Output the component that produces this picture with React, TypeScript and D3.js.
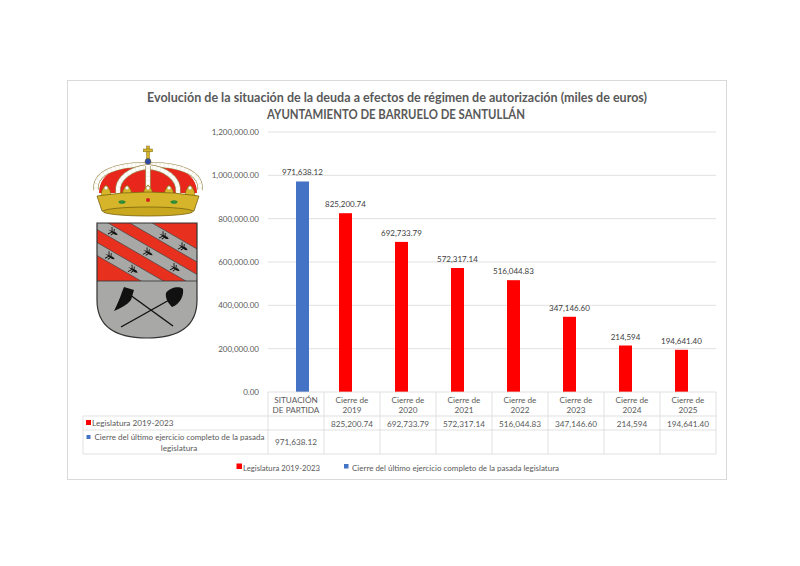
import React from "react";
import * as d3 from "d3";

// Datos del gráfico
const categories = [
  "SITUACIÓN DE PARTIDA",
  "Cierre de 2019",
  "Cierre de 2020",
  "Cierre de 2021",
  "Cierre de 2022",
  "Cierre de 2023",
  "Cierre de 2024",
  "Cierre de 2025",
];
const categoryLines = [
  ["SITUACIÓN", "DE PARTIDA"],
  ["Cierre de", "2019"],
  ["Cierre de", "2020"],
  ["Cierre de", "2021"],
  ["Cierre de", "2022"],
  ["Cierre de", "2023"],
  ["Cierre de", "2024"],
  ["Cierre de", "2025"],
];
const seriesNames = [
  "Legislatura 2019-2023",
  "Cierre del último ejercicio completo de la pasada legislatura",
];
const legislatura: (number | null)[] = [
  null, 825200.74, 692733.79, 572317.14, 516044.83, 347146.6, 214594, 194641.4,
];
const pasada: (number | null)[] = [971638.12, null, null, null, null, null, null, null];
const yTicks = [0, 200000, 400000, 600000, 800000, 1000000, 1200000];

const titleLine1 =
  "Evolución de la situación de la deuda a efectos de régimen de autorización (miles de euros)";
const titleLine2 = "AYUNTAMIENTO DE BARRUELO DE SANTULLÁN";

const colors = ["#ff0000", "#4472c4"];
const textColor = "#595959";
const gridColor = "#d9d9d9";
const font = "Lato, 'Open Sans', sans-serif";

const fmt = (v: number) =>
  Number.isInteger(v) ? d3.format(",")(v) : d3.format(",.2f")(v);

// Escudo (decorativo)
const CoatOfArms: React.FC = () => {
  const sx = 97;
  const sy = 223;
  const sw = 100;
  const sh = 58;
  const slope = 0.58;
  const grayBands = [-25.5, 0, 26];
  const half = 6.5;
  const birds = [
    { t: -25.5, lx: 67 },
    { t: -25.5, lx: 86 },
    { t: 0, lx: 16 },
    { t: 0, lx: 51 },
    { t: 0, lx: 78 },
    { t: 26, lx: 13 },
    { t: 26, lx: 36 },
  ];
  const angle = (Math.atan(slope) * 180) / Math.PI;
  const shieldPath = `M${sx},${sy} H${sx + sw} V300 Q${sx + sw},338 ${sx + sw / 2},338 Q${sx},338 ${sx},300 Z`;
  const bandPoly = (c: number, h: number) => {
    const x0 = -10;
    const x1 = sw + 10;
    return [
      [sx + x0, sy + c - h + slope * x0],
      [sx + x1, sy + c - h + slope * x1],
      [sx + x1, sy + c + h + slope * x1],
      [sx + x0, sy + c + h + slope * x0],
    ]
      .map((p) => p.join(","))
      .join(" ");
  };
  const pearlArches = [
    "M96,190 C94,172 118,164 148,165",
    "M200,190 C202,172 178,164 148,165",
    "M118,193 C116,178 132,168 148,167",
    "M178,193 C180,178 164,168 148,167",
    "M148,166 L148,193",
  ];
  return (
    <g>
      <defs>
        <clipPath id="shieldClip">
          <path d={shieldPath} />
        </clipPath>
      </defs>
      {/* Corona */}
      <path d="M99,193 C99,171 124,163 148,163 C172,163 197,171 197,193 Z" fill="#e8261c" />
      {pearlArches.map((d, i) => (
        <g key={i}>
          <path d={d} fill="none" stroke="#9a8a50" strokeWidth={5.4} />
          <path d={d} fill="none" stroke="#f4f1e4" strokeWidth={4.2} />
          <path
            d={d}
            fill="none"
            stroke="#ffffff"
            strokeWidth={3.6}
            strokeLinecap="round"
            strokeDasharray="0 4.2"
          />
        </g>
      ))}
      <rect x={146.6} y={146} width={2.8} height={13} fill="#d6b52a" stroke="#7a6410" strokeWidth={0.5} />
      <rect x={143.5} y={149} width={9} height={2.8} fill="#d6b52a" stroke="#7a6410" strokeWidth={0.5} />
      <circle cx={148} cy={161.5} r={3} fill="#2a4aa8" stroke="#7a6410" strokeWidth={0.5} />
      {[106, 127, 148, 169, 190].map((x, i) => (
        <g key={i}>
          <path
            d={`M${x - 5},${197} Q${x - 5},${189} ${x},${185} Q${x + 5},${189} ${x + 5},${197} Z`}
            fill="#d6b52a"
            stroke="#7a6410"
            strokeWidth={0.6}
          />
          <circle cx={x} cy={188} r={1.7} fill="#ffffff" stroke="#888" strokeWidth={0.3} />
        </g>
      ))}
      <path
        d="M97,196 Q148,188 199,196 L194,211 Q148,204 102,211 Z"
        fill="#d6b52a"
        stroke="#7a6410"
        strokeWidth={0.8}
      />
      <ellipse cx={148} cy={211.5} rx={45} ry={4.5} fill="#c9a820" stroke="#7a6410" strokeWidth={0.8} />
      <ellipse cx={122} cy={202} rx={3.5} ry={1.8} fill="#2e8b3a" />
      <ellipse cx={174} cy={202} rx={3.5} ry={1.8} fill="#2e8b3a" />
      <ellipse cx={148} cy={200} rx={2} ry={2} fill="#d81e1e" />
      {/* Escudo */}
      <g clipPath="url(#shieldClip)">
        <rect x={sx} y={sy} width={sw} height={sh} fill="#e8301e" />
        {grayBands.map((c, i) => (
          <polygon key={i} points={bandPoly(c, half)} fill="#a8a8a6" stroke="#444" strokeWidth={0.7} />
        ))}
        {birds.map((b, i) => {
          const bx = sx + b.lx;
          const by = sy + b.t + slope * b.lx;
          return (
            <g key={i} transform={`translate(${bx},${by}) rotate(${angle})`}>
              <path d="M-5.5,0 L3,-1.2 L5.5,0 L3,1.2 Z" fill="#111" />
              <path d="M-1,0 L-3.5,-4 M-1,0 L-3.5,4 M1,0 L-0.5,-3.5 M1,0 L-0.5,3.5" stroke="#111" strokeWidth={0.9} />
            </g>
          );
        })}
        <rect x={sx} y={sy + sh} width={sw} height={60} fill="#a8a8a6" />
        <line x1={sx} x2={sx + sw} y1={sy + sh} y2={sy + sh} stroke="#333" strokeWidth={0.8} />
        <line x1={126} y1={292} x2={173} y2={326} stroke="#111" strokeWidth={1.4} />
        <line x1={171} y1={299} x2={121} y2={327} stroke="#111" strokeWidth={1.4} />
        <path
          d="M124,287 L134,290 L131,300 C127,305 121,308 114,311 C117,305 120,298 122,292 Z"
          fill="#111"
        />
        <path
          d="M166,293 C170,287 180,286 183,289 C184,296 180,304 172,307 C168,303 165,298 166,293 Z"
          fill="#111"
        />
      </g>
      <path d={shieldPath} fill="none" stroke="#333" strokeWidth={1.2} />
    </g>
  );
};

const App: React.FC = () => {
  const W = 800;
  const H = 566;
  const plot = { left: 268, right: 716, top: 132, bottom: 392 };
  const tableLeft = 83;
  const row1 = { top: 416, bottom: 430 };
  const row2 = { top: 430, bottom: 454 };

  const x = d3
    .scaleBand<string>()
    .domain(categories)
    .range([plot.left, plot.right])
    .padding(0);
  const sub = d3.scaleBand<string>().domain(seriesNames).range([-13, 13]).padding(0);
  const y = d3.scaleLinear().domain([0, 1200000]).range([plot.bottom, plot.top]);

  const series = [legislatura, pasada];
  const bw = x.bandwidth();
  const cellFont = 8.2;

  return (
    <svg
      width={W}
      height={H}
      style={{ position: "absolute", left: 0, top: 0, background: "#fff" }}
      fontFamily={font}
    >
      <rect x={0} y={0} width={W} height={H} fill="#fff" />
      <rect x={67.5} y={80.5} width={659} height={399} fill="#fff" stroke={gridColor} />

      {/* Título */}
      <text
        x={397}
        y={102}
        textAnchor="middle"
        fontSize={13}
        fontWeight="bold"
        fill={textColor}
        textLength={500}
        lengthAdjust="spacingAndGlyphs"
      >
        {titleLine1}
      </text>
      <text
        x={396}
        y={119}
        textAnchor="middle"
        fontSize={13}
        fontWeight="bold"
        fill={textColor}
        textLength={258}
        lengthAdjust="spacingAndGlyphs"
      >
        {titleLine2}
      </text>

      <CoatOfArms />

      {/* Rejilla y eje Y */}
      {yTicks.map((t) => (
        <g key={t}>
          {t > 0 && (
            <line x1={plot.left} x2={plot.right} y1={y(t)} y2={y(t)} stroke={gridColor} strokeWidth={0.8} />
          )}
          <text x={259} y={y(t) + 3} textAnchor="end" fontSize={8} fill={textColor}>
            {d3.format(",.2f")(t)}
          </text>
        </g>
      ))}

      {/* Barras */}
      {series.map((vals, si) =>
        vals.map((v, ci) =>
          v == null ? null : (
            <g key={`${si}-${ci}`}>
              <rect
                x={(x(categories[ci]) as number) + bw / 2 + (sub(seriesNames[si]) as number)}
                y={y(v)}
                width={sub.bandwidth()}
                height={y(0) - y(v)}
                fill={colors[si]}
              />
              <text
                x={(x(categories[ci]) as number) + bw / 2 + (sub(seriesNames[si]) as number) + sub.bandwidth() / 2}
                y={y(v) - 6}
                textAnchor="middle"
                fontSize={8}
                fill="#404040"
              >
                {fmt(v)}
              </text>
            </g>
          )
        )
      )}

      {/* Tabla de datos */}
      <g stroke={gridColor} strokeWidth={0.8}>
        <line x1={plot.left} x2={plot.right} y1={plot.bottom} y2={plot.bottom} />
        {[row1.top, row2.top, row2.bottom].map((yy) => (
          <line key={yy} x1={tableLeft} x2={plot.right} y1={yy} y2={yy} />
        ))}
        <line x1={tableLeft} x2={tableLeft} y1={row1.top} y2={row2.bottom} />
        {categories.map((c) => (
          <line key={c} x1={x(c) as number} x2={x(c) as number} y1={plot.bottom} y2={row2.bottom} />
        ))}
        <line x1={plot.right} x2={plot.right} y1={plot.bottom} y2={row2.bottom} />
      </g>
      {categories.map((c, ci) => (
        <g key={c}>
          {categoryLines[ci].map((ln, li) => (
            <text
              key={li}
              x={(x(c) as number) + bw / 2}
              y={403 + li * 10}
              textAnchor="middle"
              fontSize={cellFont}
              fill={textColor}
            >
              {ln}
            </text>
          ))}
          {legislatura[ci] != null && (
            <text x={(x(c) as number) + bw / 2} y={426.5} textAnchor="middle" fontSize={cellFont} fill={textColor}>
              {fmt(legislatura[ci] as number)}
            </text>
          )}
          {pasada[ci] != null && (
            <text x={(x(c) as number) + bw / 2} y={445} textAnchor="middle" fontSize={cellFont} fill={textColor}>
              {fmt(pasada[ci] as number)}
            </text>
          )}
        </g>
      ))}
      <rect x={86} y={420} width={5} height={5} fill={colors[0]} />
      <text x={92} y={426} fontSize={cellFont} fill={textColor}>
        {seriesNames[0]}
      </text>
      <rect x={86.5} y={435} width={4} height={4} fill={colors[1]} />
      <text
        x={179.5}
        y={440}
        textAnchor="middle"
        fontSize={cellFont}
        fill={textColor}
        textLength={170}
        lengthAdjust="spacingAndGlyphs"
      >
        Cierre del último ejercicio completo de la pasada
      </text>
      <text x={179} y={450.5} textAnchor="middle" fontSize={cellFont} fill={textColor}>
        legislatura
      </text>

      {/* Leyenda */}
      <rect x={236.5} y={463.5} width={5.5} height={5.5} fill={colors[0]} />
      <text x={243} y={470.5} fontSize={8.2} fill={textColor} textLength={77} lengthAdjust="spacingAndGlyphs">
        {seriesNames[0]}
      </text>
      <rect x={344} y={464} width={4.5} height={4.5} fill={colors[1]} />
      <text x={352} y={470.5} fontSize={8.2} fill={textColor} textLength={207} lengthAdjust="spacingAndGlyphs">
        {seriesNames[1]}
      </text>
    </svg>
  );
};

export default App;
